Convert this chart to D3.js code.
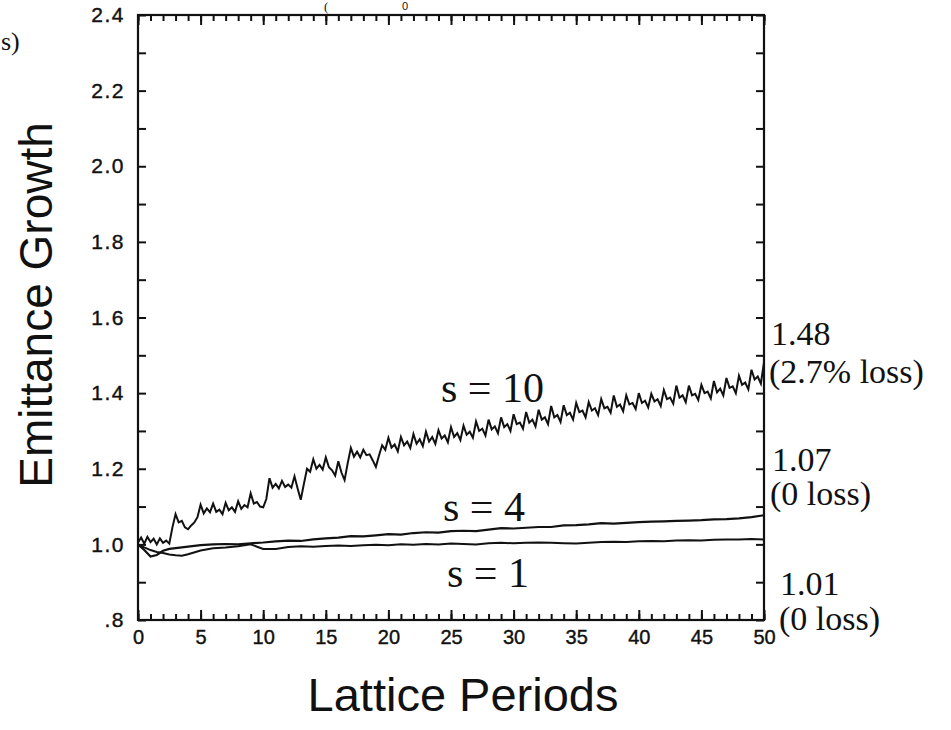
<!DOCTYPE html>
<html>
<head>
<meta charset="utf-8">
<script src="https://cdn.jsdelivr.net/npm/d3@7"></script>
<style>
  html, body { margin: 0; padding: 0; background: #fff; }
  svg { display: block; }
  .tick text { font-family: "Liberation Sans", Arial, sans-serif; fill: #111; }
</style>
</head>
<body>
<svg id="chart" width="951" height="730"></svg>
<script>
// ---- data ----
const xMajorTicks = [0, 5, 10, 15, 20, 25, 30, 35, 40, 45, 50];
const xTickLabels = ["0", "5", "10", "15", "20", "25", "30", "35", "40", "45", "50"];
const yMajorTicks = [0.8, 1.0, 1.2, 1.4, 1.6, 1.8, 2.0, 2.2, 2.4];
const yTickLabels = [".8", "1.0", "1.2", "1.4", "1.6", "1.8", "2.0", "2.2", "2.4"];
const yMinorTicks = [0.9, 1.1, 1.3, 1.5, 1.7, 1.9, 2.1, 2.3];

// s = 10 sampled every quarter period; smooth curves at the listed periods
const periodsQuarter = d3.range(0, 50.001, 0.25);
const periodsSmooth = [0, 0.5, 1, 1.5, 2, 2.5, 3, 3.5, 4, 5, 6, 7, 8, 9, 10, 11, 12, 13, 14, 15, 16, 17, 18, 19, 20,
  21, 22, 23, 24, 25, 26, 27, 28, 29, 30, 31, 32, 33, 34, 35, 36, 37, 38, 39, 40, 41, 42, 43, 44, 45, 46, 47, 48, 49, 50];

const growthS10 = [
  1.005, 1.018, 1.002, 1.020, 1.006, 1.015, 1.000, 1.016, 1.004, 1.010, 1.002, 1.045,   // 0 - 2.75
  1.080, 1.058, 1.062, 1.045, 1.040, 1.050, 1.058, 1.072,                             // 3 - 4.75
  1.105, 1.082, 1.095, 1.085, 1.108, 1.086, 1.092, 1.080,                             // 5 - 6.75
  1.110, 1.090, 1.098, 1.086, 1.114, 1.094, 1.104, 1.098,                             // 7 - 8.75
  1.135, 1.108, 1.112, 1.100, 1.098, 1.120, 1.175, 1.150,                             // 9 - 10.75
  1.160, 1.148, 1.168, 1.152, 1.158, 1.150, 1.180, 1.148,                             // 11 - 12.75
  1.118, 1.160, 1.200, 1.192, 1.225, 1.200, 1.210, 1.198,                             // 13 - 14.75
  1.230, 1.204, 1.196, 1.182, 1.220, 1.190, 1.170, 1.215,                             // 15 - 16.75
  1.255, 1.232, 1.245, 1.230, 1.250, 1.236, 1.238, 1.222,                             // 17 - 18.75
  1.205, 1.235, 1.262, 1.250, 1.282, 1.256, 1.264, 1.246,                             // 19 - 20.75
  1.284, 1.262, 1.272, 1.255, 1.292, 1.266, 1.278, 1.260,                             // 21 - 22.75
  1.298, 1.272, 1.284, 1.266, 1.302, 1.280, 1.288, 1.270,                             // 23 - 24.75
  1.310, 1.284, 1.294, 1.276, 1.314, 1.290, 1.298, 1.282,                             // 25 - 26.75
  1.325, 1.300, 1.306, 1.288, 1.330, 1.304, 1.312, 1.294,                             // 27 - 28.75
  1.336, 1.310, 1.318, 1.300, 1.344, 1.318, 1.322, 1.306,                             // 29 - 30.75
  1.350, 1.322, 1.330, 1.312, 1.356, 1.330, 1.336, 1.318,                             // 31 - 32.75
  1.366, 1.336, 1.342, 1.324, 1.368, 1.342, 1.348, 1.330,                             // 33 - 34.75
  1.374, 1.350, 1.354, 1.336, 1.376, 1.354, 1.360, 1.342,                             // 35 - 36.75
  1.384, 1.360, 1.364, 1.348, 1.394, 1.364, 1.370, 1.352,                             // 37 - 38.75
  1.394, 1.370, 1.374, 1.358, 1.400, 1.374, 1.380, 1.362,                             // 39 - 40.75
  1.398, 1.378, 1.384, 1.366, 1.408, 1.384, 1.388, 1.372,                             // 41 - 42.75
  1.420, 1.388, 1.394, 1.376, 1.420, 1.394, 1.398, 1.382,                             // 43 - 44.75
  1.422, 1.400, 1.404, 1.386, 1.432, 1.402, 1.412, 1.394,                             // 45 - 46.75
  1.440, 1.414, 1.418, 1.400, 1.446, 1.422, 1.428, 1.410,                             // 47 - 48.75
  1.462, 1.436, 1.444, 1.425, 1.482                                                   // 49 - 50
];
const growthS4 = [
  1.000, 0.985, 0.968, 0.972, 0.983, 0.988, 0.990, 0.992, 0.994, 0.998, 1.000, 1.001, 1.000, 1.003, 1.005,
  1.008, 1.010, 1.009, 1.013, 1.016, 1.018, 1.022, 1.021, 1.024, 1.027, 1.026, 1.030, 1.032, 1.031, 1.035,
  1.036, 1.035, 1.039, 1.043, 1.042, 1.044, 1.046, 1.046, 1.050, 1.051, 1.053, 1.056, 1.055, 1.057, 1.059,
  1.060, 1.061, 1.062, 1.063, 1.064, 1.066, 1.067, 1.069, 1.072, 1.077
];
const growthS1 = [
  1.000, 0.992, 0.985, 0.980, 0.977, 0.973, 0.971, 0.970, 0.974, 0.984, 0.990, 0.992, 0.995, 1.000, 0.988,
  0.988, 0.993, 0.995, 0.994, 0.996, 0.997, 0.996, 0.998, 0.999, 0.998, 1.000, 0.999, 1.001, 1.000, 1.002,
  1.001, 1.000, 1.003, 1.004, 1.003, 1.004, 1.005, 1.004, 1.003, 1.002, 1.004, 1.006, 1.007, 1.006, 1.008,
  1.009, 1.008, 1.010, 1.011, 1.010, 1.012, 1.013, 1.013, 1.014, 1.013
];

const seriesLabels = ["s = 10", "s = 4", "s = 1"];
const endValueLabels = ["1.48", "1.07", "1.01"];
const lossLabels = ["(2.7% loss)", "(0 loss)", "(0 loss)"];

// ---- layout ----
const svg = d3.select("#chart");
const L = 138, R = 764, T = 15, B = 620;
const x = d3.scaleLinear().domain([0, 50]).range([L, R]);
const y = d3.scaleLinear().domain([0.8, 2.4]).range([B, T]);
const sans = '"Liberation Sans", Arial, Helvetica, sans-serif';
const serif = '"Liberation Serif", "Times New Roman", Times, serif';

const gBottom = svg.append("g").attr("transform", `translate(0,${B})`)
  .call(d3.axisBottom(x).tickValues(xMajorTicks).tickSizeInner(-10).tickSizeOuter(0).tickPadding(10)
    .tickFormat((d, i) => xTickLabels[i]));
gBottom.selectAll("text").style("font-size", "20px").attr("stroke", "#111").attr("stroke-width", 0.4);
svg.append("g").attr("transform", `translate(0,${B})`)
  .call(d3.axisBottom(x).tickValues(d3.range(0, 51, 1)).tickSizeInner(-6).tickSizeOuter(0).tickFormat(""));
svg.append("g").attr("transform", `translate(0,${T})`)
  .call(d3.axisTop(x).tickValues(xMajorTicks).tickSizeInner(-10).tickSizeOuter(0).tickFormat(""));
svg.append("g").attr("transform", `translate(0,${T})`)
  .call(d3.axisTop(x).tickValues(d3.range(0, 51, 1)).tickSizeInner(-6).tickSizeOuter(0).tickFormat(""));

const gLeft = svg.append("g").attr("transform", `translate(${L},0)`)
  .call(d3.axisLeft(y).tickValues(yMajorTicks).tickSizeInner(-8).tickSizeOuter(0).tickPadding(13)
    .tickFormat((d, i) => yTickLabels[i]));
gLeft.selectAll("text").style("font-size", "21px").style("letter-spacing", "1.5px")
  .attr("stroke", "#111").attr("stroke-width", 0.4);
svg.append("g").attr("transform", `translate(${L},0)`)
  .call(d3.axisLeft(y).tickValues(yMinorTicks).tickSizeInner(-8).tickSizeOuter(0).tickFormat(""));
svg.append("g").attr("transform", `translate(${R},0)`)
  .call(d3.axisRight(y).tickValues(yMajorTicks.concat(yMinorTicks)).tickSizeInner(-8).tickSizeOuter(0).tickFormat(""));

svg.selectAll(".domain").remove();
svg.selectAll(".tick line").attr("stroke", "#111").attr("stroke-width", 2);

svg.append("rect").attr("x", L).attr("y", T).attr("width", R - L).attr("height", B - T)
  .attr("fill", "none").attr("stroke", "#111").attr("stroke-width", 2.2);

// curves
const line = d3.line().x(d => x(d[0])).y(d => y(d[1]));
svg.append("path").datum(periodsQuarter.map((p, i) => [p, growthS10[i]]))
  .attr("d", line).attr("fill", "none").attr("stroke", "#111").attr("stroke-width", 2);
svg.append("path").datum(periodsSmooth.map((p, i) => [p, growthS4[i]]))
  .attr("d", line).attr("fill", "none").attr("stroke", "#111").attr("stroke-width", 2.2);
svg.append("path").datum(periodsSmooth.map((p, i) => [p, growthS1[i]]))
  .attr("d", line).attr("fill", "none").attr("stroke", "#111").attr("stroke-width", 2);

// series labels
const seriesPos = [[441, 402], [443, 521], [447, 587]];
seriesLabels.forEach((t, i) => {
  svg.append("text").attr("x", seriesPos[i][0]).attr("y", seriesPos[i][1])
    .attr("font-family", serif).attr("font-size", 42).attr("fill", "#111").text(t);
});

// right annotations
const endPos = [[771, 345], [772, 471], [780, 595]];
const lossPos = [[769, 383], [770, 505], [779, 630]];
endValueLabels.forEach((t, i) => {
  svg.append("text").attr("x", endPos[i][0]).attr("y", endPos[i][1])
    .attr("font-family", serif).attr("font-size", 34).attr("fill", "#111").text(t);
  svg.append("text").attr("x", lossPos[i][0]).attr("y", lossPos[i][1])
    .attr("font-family", serif).attr("font-size", 34).attr("fill", "#111").text(lossLabels[i]);
});

// axis titles
svg.append("text").attr("transform", "translate(52,305) rotate(-90)")
  .attr("text-anchor", "middle").attr("font-family", sans).attr("font-size", 46).attr("fill", "#111")
  .text("Emittance Growth");
svg.append("text").attr("x", 463).attr("y", 711)
  .attr("text-anchor", "middle").attr("font-family", sans).attr("font-size", 47).attr("fill", "#111")
  .text("Lattice Periods");

// fragments of surrounding text at the edges of the scan
svg.append("text").attr("x", 1).attr("y", 50).attr("font-family", serif).attr("font-size", 26)
  .attr("fill", "#111").text("s)");
svg.append("text").attr("x", 324).attr("y", 11).attr("font-family", serif).attr("font-size", 13)
  .attr("fill", "#111").text("(");
svg.append("text").attr("x", 402).attr("y", 10).attr("font-family", sans).attr("font-size", 11)
  .attr("fill", "#111").text("0");
</script>
</body>
</html>
